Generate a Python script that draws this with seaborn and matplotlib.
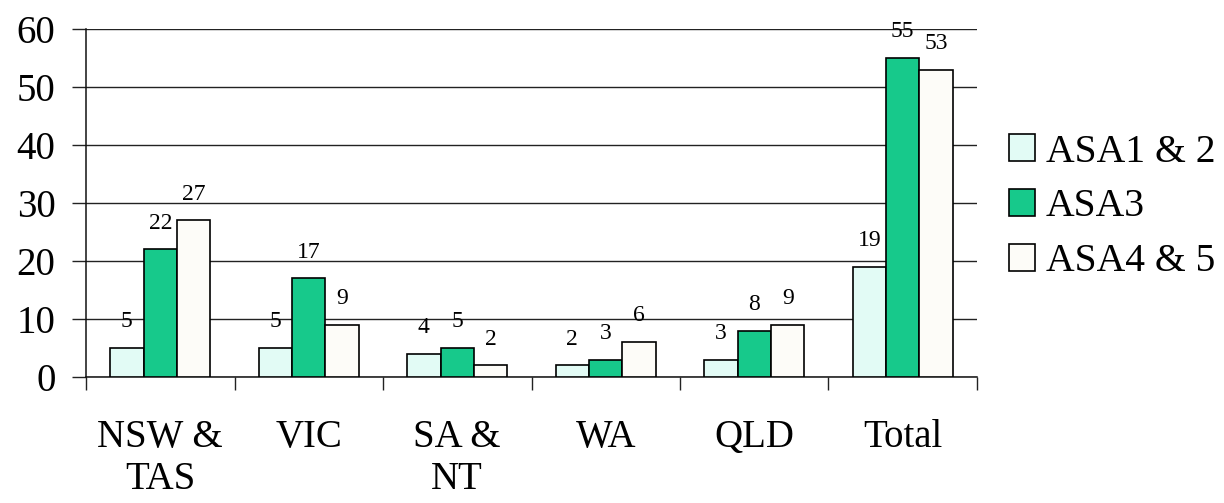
import matplotlib
matplotlib.use("Agg")
import matplotlib.pyplot as plt
from matplotlib.patches import Patch
from matplotlib.ticker import FixedLocator
import seaborn as sns
import pandas as pd

categories = ["NSW &\nTAS", "VIC", "SA &\nNT", "WA", "QLD", "Total"]
series_names = ["ASA1 & 2", "ASA3", "ASA4 & 5"]
asa12 = [5, 5, 4, 2, 3, 19]
asa3 = [22, 17, 5, 3, 8, 55]
asa45 = [27, 9, 2, 6, 9, 53]
y_ticks = [0, 10, 20, 30, 40, 50, 60]
colors = ["#e2fbf5", "#17c98b", "#fdfcf8"]

rows = []
for name, vals in zip(series_names, [asa12, asa3, asa45]):
    for c, v in zip(categories, vals):
        rows.append({"region": c, "series": name, "value": v})
df = pd.DataFrame(rows)

sns.set_style("white")
plt.rcParams["font.family"] = ["Liberation Serif", "DejaVu Serif"]
plt.rcParams["text.color"] = "black"
plt.rcParams["xtick.color"] = "black"
plt.rcParams["ytick.color"] = "black"
plt.rcParams["xtick.labelcolor"] = "black"
plt.rcParams["ytick.labelcolor"] = "black"

fig = plt.figure(figsize=(12.24, 5.03), dpi=100)
ax = fig.add_axes([86 / 1224, 126 / 503, (977 - 86) / 1224, (377 - 29) / 503])

sns.barplot(data=df, x="region", y="value", hue="series", order=categories,
            hue_order=series_names, palette=colors, width=0.675,
            edgecolor="black", linewidth=1.2, saturation=1, ax=ax,
            legend=False, zorder=3)

for cont in ax.containers:
    for bar in cont:
        h = bar.get_height()
        ax.annotate(f"{h:g}", (bar.get_x() + bar.get_width() / 2, h),
                    xytext=(0, 19), textcoords="offset points",
                    ha="center", va="center", fontsize=17, color="black", zorder=4)

ax.set_xlim(-0.5, len(categories) - 0.5)
ax.set_ylim(0, 60)
ax.set_yticks(y_ticks)
ax.yaxis.grid(True, color="#222222", linewidth=1.0, zorder=0)
ax.set_axisbelow(True)
ax.set_xlabel("")
ax.set_ylabel("")

for s in ["top", "right"]:
    ax.spines[s].set_visible(False)
for s in ["left", "bottom"]:
    ax.spines[s].set_color("#111111")
    ax.spines[s].set_linewidth(1.1)

ax.tick_params(axis="y", which="major", length=10, width=1.0, color="#222222",
               pad=12, labelsize=28, left=True, direction="out")
ax.tick_params(axis="x", which="major", length=0, pad=30, labelsize=28)
ax.xaxis.set_minor_locator(FixedLocator([i - 0.5 for i in range(len(categories) + 1)]))
ax.tick_params(axis="x", which="minor", length=9.5, width=1.0, color="#222222",
               bottom=True, direction="out")
for lab in ax.get_xticklabels():
    lab.set_linespacing(1.2)

handles = [Patch(facecolor=c, edgecolor="black", linewidth=1.2) for c in colors]
fig.legend(handles, series_names, loc="center left",
           bbox_to_anchor=(1009 / 1224, 1 - 207 / 503), frameon=False,
           fontsize=28.5, handlelength=0.66, handleheight=0.66,
           handletextpad=0.27, labelspacing=0.45, borderpad=0, borderaxespad=0)

fig.savefig("out.png", dpi=100)
